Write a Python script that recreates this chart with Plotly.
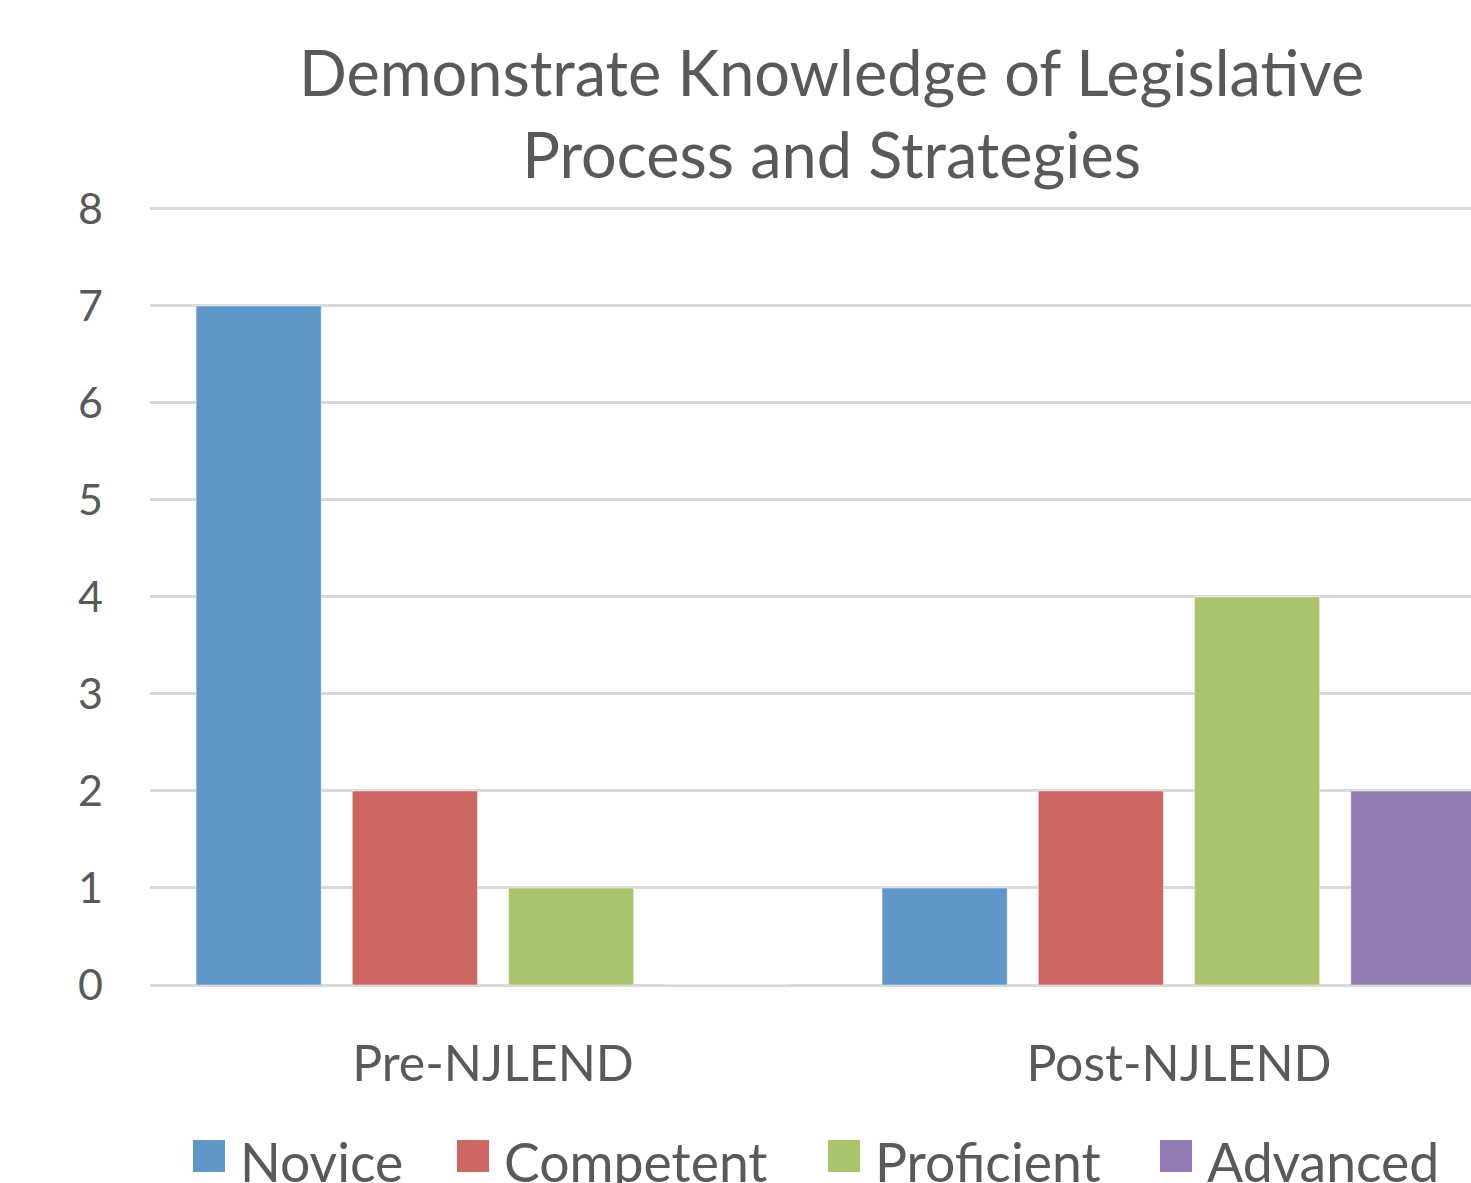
import plotly.graph_objects as go

categories = ["Pre-NJLEND", "Post-NJLEND"]
series_names = ["Novice", "Competent", "Proficient", "Advanced"]
novice = [7, 1]
competent = [2, 2]
proficient = [1, 4]
advanced = [0, 2]
colors = ["#6196C8", "#CD6661", "#AAC46D", "#927AB2"]
y_ticks = [0, 1, 2, 3, 4, 5, 6, 7, 8]
title_lines = ["Demonstrate Knowledge of Legislative", "Process and Strategies"]

W, H = 1471, 1183

Y_MAX = 8.02
UNIT = (985 - 209) / 8.0
L = 150
R_EDGE = W
BOT = 985
TOP = BOT - UNIT * Y_MAX
PW, PH = R_EDGE - L, BOT - TOP
CAT_W = 686.0

def px(x):
    return (x - L) / PW

def py(y):
    return (BOT - y) / PH

FONT = "Lato"
TXT = "#595959"

fig = go.Figure()
for name, vals, col in zip(series_names, [novice, competent, proficient, advanced], colors):
    fig.add_trace(go.Bar(
        x=categories, y=vals, name=name,
        marker=dict(color=col, line=dict(color="rgba(255,255,255,0.45)", width=1)),
        showlegend=False,
    ))

# title
fig.add_annotation(
    text="<br>".join(title_lines), xref="paper", yref="paper",
    x=px(831), y=py(32), xanchor="center", yanchor="top", showarrow=False,
    font=dict(family=FONT, size=63, color=TXT), align="center",
)

# legend (drawn as layout items so the symbols can be large)
sq_x = [193, 457, 828, 1160]
tx_x = [241, 505, 876, 1208]
for name, col, sx, tx in zip(series_names, colors, sq_x, tx_x):
    fig.add_shape(type="rect", xref="paper", yref="paper",
                  x0=px(sx), x1=px(sx + 32), y0=py(1172), y1=py(1140),
                  fillcolor=col, line=dict(width=0))
    fig.add_annotation(text=name, xref="paper", yref="paper",
                       x=px(tx - 3), y=py(1161), xanchor="left", yanchor="middle",
                       showarrow=False, font=dict(family=FONT, size=53.5, color=TXT))

fig.update_layout(
    width=W, height=H,
    margin=dict(l=L, r=W - R_EDGE, t=TOP, b=H - BOT, pad=0),
    paper_bgcolor="white", plot_bgcolor="white",
    barmode="group", bargap=0.089, bargroupgap=0.199,
    font=dict(family=FONT, color=TXT),
    showlegend=False,
)
fig.update_xaxes(
    range=[-0.5, -0.5 + PW / CAT_W], showgrid=False, showline=False, zeroline=False,
    tickfont=dict(family=FONT, size=50, color=TXT), ticks="", ticklabelstandoff=45,
)
fig.update_yaxes(
    range=[0, Y_MAX], tickvals=y_ticks, showgrid=True, gridcolor="#D9D9D9", gridwidth=2.5,
    zeroline=True, zerolinecolor="#D9D9D9", zerolinewidth=2.5, showline=False,
    tickfont=dict(family=FONT, size=43, color=TXT), ticks="", ticklabelstandoff=46,
)

fig.write_html(
    "out.html",
    config={"displayModeBar": False},
    post_script="document.body.style.margin='0';document.body.style.overflow='hidden';"
                "document.documentElement.style.overflow='hidden';",
)
